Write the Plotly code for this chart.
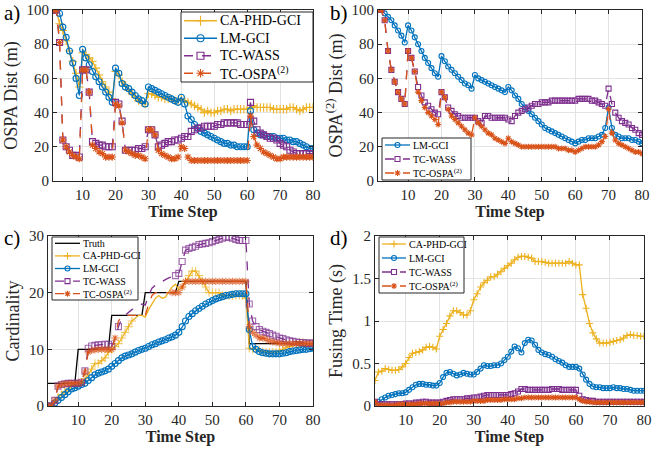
import plotly.graph_objects as go

t = list(range(1, 81))

# ---------------- Panel a: OSPA Dist (m) ----------------
a_ca = [100,100,92,88,82,76,70,63,55,75,74,72,70,66,62,58,55,52,48,64,
        62,58,56,53,51,49,47,46,45,51,51,50,49,49,48,48,48,47,47,48,
        47,46,45,44,43,42,40,41,40,40,41,41,42,42,41,42,42,42,42,42,
        43,44,43,43,43,43,43,42,42,42,42,42,43,43,42,41,42,43,43,43]
a_lm = [100,100,98,90,84,76,69,60,50,77,72,68,64,61,58,55,52,49,46,66,
        63,57,55,54,52,50,48,47,45,55,54,53,52,51,50,49,48,47,46,49,
        45,38,36,33,31,29,28,27,26,25,24,23,22,22,21,21,20,20,20,20,
        41,30,28,27,27,26,26,26,25,25,25,24,24,23,23,22,21,20,19,19]
a_wass = [100,100,81,24,20,18,15,15,14,65,65,52,23,22,21,21,20,20,20,46,
          45,35,18,18,18,18,19,19,20,30,30,27,20,21,22,23,23,24,24,25,
          26,26,29,30,31,31,32,32,32,32,33,33,34,34,34,34,34,33,33,33,
          46,35,30,28,27,26,25,25,24,22,21,20,18,17,16,16,16,16,16,16]
a_ospa = [100,100,81,24,20,17,15,14,13,65,65,52,21,19,17,16,14,14,14,45,
          44,34,18,17,16,15,15,14,13,30,30,27,18,16,15,14,13,13,14,20,
          19,14,12,12,12,12,12,12,12,12,12,12,12,12,12,12,12,12,12,12,
          38,26,21,19,17,16,15,14,13,13,14,14,14,14,14,14,14,14,14,14]

# ---------------- Panel b: OSPA^(2) Dist (m) ----------------
b_lm = [100,100,98,96,94,91,88,85,81,91,88,84,80,76,72,69,66,63,61,73,
        70,67,65,63,61,59,57,56,54,62,60,59,58,57,56,55,54,53,52,55,
        53,50,48,45,43,41,39,37,35,33,31,30,29,28,27,26,25,24,23,22,
        23,24,24,25,25,25,26,27,31,43,31,27,26,25,25,25,24,24,23,22]
b_wass = [100,100,94,76,65,58,52,48,45,76,72,64,55,50,46,44,42,40,39,52,
          49,43,41,39,38,37,37,37,37,37,35,34,38,38,37,37,37,37,37,36,
          35,38,40,41,42,43,44,45,45,46,46,46,47,47,47,47,47,47,47,47,
          48,48,48,48,47,47,46,45,44,54,45,40,37,35,34,33,31,30,28,27]
b_ospa = [100,100,94,76,65,58,52,48,45,76,72,64,52,47,43,40,38,36,33,52,
          49,42,38,36,34,32,30,28,27,37,34,32,30,28,27,25,24,23,22,25,
          23,22,21,20,20,20,20,20,20,20,20,20,20,20,19,19,19,18,18,17,
          18,19,20,20,20,20,21,23,26,42,28,24,22,21,20,19,18,17,17,16]

# ---------------- Panel c: Cardinality ----------------
c_truth = [4]*9 + [10]*10 + [16]*10 + [20]*10 + [22]*21 + [11]*20
c_ca = [0,0,0.5,1.5,2,2.5,3,3.5,3.8,4,4.2,4.8,5.5,6.5,7.5,7.5,8,8.5,9.5,10,
        10.5,11,12,13,14,15,15.5,16,16,15.7,17,18,19,19.5,19,19.2,20,21,21.5,20.5,
        21,22,23,23.8,23.8,23,22,21,20,20,20,20,19.5,19.5,19.5,19.5,19.5,19.5,19.5,19,
        10.2,10,10,9.8,9.6,9.5,9.5,9.5,9.5,9.8,10,10.3,10.5,10.8,11,11.3,11.2,11,11,11]
c_lm = [0,0,0.5,1,1.5,2,2.5,3,3.2,3.5,3.8,4,4.5,5,5.5,5.8,6,6.2,6.5,7,
        7.5,8,8.5,8.8,9,9.2,9.5,9.8,10,10.2,10.5,10.8,11,11.3,11.5,11.7,12,12.2,12.5,13,
        14,15,15.8,16.3,16.8,17.2,17.6,18,18.3,18.6,18.9,19.1,19.3,19.5,19.6,19.7,19.8,19.8,19.8,19.8,
        13.5,10.5,10,9.6,9.4,9.3,9.2,9.2,9.2,9.2,9.3,9.4,9.6,9.7,9.8,9.9,10,10,10.1,10.2]
c_wass = [0,0,1,3.5,3.8,3.9,4,4,4,4,4.2,6.2,10.2,10.6,10.7,10.8,10.8,10.9,10.9,10.5,
          12,14,15.5,16,16.5,17,17.3,17.6,18,17.8,19.5,20.8,21.3,21.6,22,22.3,22.6,22.8,23,23.4,
          25.5,27.5,27.8,28,28.2,28.5,28.6,28.7,28.8,29,29.2,29.4,29.6,29.8,29.8,29.6,29.4,29.2,29.2,29.2,
          18,15,14,13.5,13.2,13,12.8,12.5,12.3,12,11.9,11.7,11.5,11.4,11.3,11.2,11.2,11.1,11.1,11.1]
c_ospa = [0,0,1,3.5,3.8,3.9,4,4,4,4,4.2,6,9.5,9.8,9.9,10,10,10,10,10,
          12,15,15.8,16,16,16,16,16,16,16,18,19.5,20,20,20,20,20,20,20,20,
          21,22,22,22,22,22,22,22,22,22,22,22,22,22,22,22,22,22,22,22,
          14,13,12.5,12,12,11.8,11.5,11.3,11.2,11.1,11,11,11,11,11,11,11,11,11,11]

# ---------------- Panel d: Fusing Time (s) ----------------
d_ca = [0.30,0.40,0.41,0.44,0.43,0.42,0.42,0.43,0.46,0.50,0.57,0.62,0.63,0.64,0.66,0.69,0.70,0.69,0.67,0.82,
        0.90,0.97,1.06,1.12,1.12,1.10,1.07,1.07,1.12,1.25,1.32,1.40,1.45,1.48,1.52,1.52,1.55,1.58,1.62,1.65,
        1.68,1.72,1.75,1.76,1.76,1.75,1.74,1.70,1.70,1.70,1.69,1.68,1.68,1.68,1.68,1.68,1.68,1.70,1.68,1.66,
        1.66,1.31,1.15,0.97,0.86,0.79,0.74,0.74,0.74,0.75,0.76,0.77,0.78,0.80,0.83,0.84,0.83,0.83,0.82,0.82]
d_lm = [0.02,0.05,0.08,0.10,0.12,0.13,0.14,0.15,0.15,0.16,0.19,0.22,0.25,0.26,0.26,0.25,0.25,0.24,0.24,0.27,
        0.34,0.39,0.40,0.38,0.36,0.37,0.39,0.38,0.37,0.37,0.40,0.44,0.48,0.47,0.47,0.48,0.48,0.50,0.54,0.58,
        0.64,0.70,0.68,0.63,0.74,0.78,0.77,0.72,0.66,0.63,0.61,0.60,0.58,0.55,0.53,0.51,0.48,0.46,0.46,0.46,
        0.44,0.37,0.31,0.26,0.23,0.22,0.22,0.21,0.21,0.21,0.22,0.21,0.21,0.20,0.20,0.19,0.18,0.18,0.18,0.18]
d_wass = [0.05,0.02,0.02,0.02,0.02,0.02,0.02,0.02,0.02,0.03,0.03,0.03,0.04,0.04,0.05,0.05,0.04,0.04,0.04,0.04,
          0.05,0.06,0.07,0.08,0.08,0.08,0.08,0.09,0.09,0.10,0.10,0.11,0.12,0.13,0.13,0.13,0.13,0.13,0.13,0.13,
          0.14,0.15,0.17,0.20,0.20,0.19,0.19,0.19,0.19,0.19,0.19,0.19,0.20,0.20,0.20,0.19,0.19,0.19,0.19,0.19,
          0.12,0.08,0.07,0.06,0.06,0.05,0.05,0.05,0.05,0.05,0.05,0.05,0.05,0.05,0.05,0.05,0.05,0.05,0.05,0.05]
d_ospa = [0.05,0.01,0.01,0.01,0.01,0.01,0.01,0.02,0.02,0.02,0.02,0.02,0.02,0.03,0.03,0.03,0.03,0.03,0.03,0.03,
          0.03,0.04,0.04,0.05,0.05,0.05,0.05,0.05,0.05,0.06,0.06,0.06,0.06,0.07,0.07,0.07,0.07,0.07,0.08,0.08,
          0.08,0.08,0.09,0.09,0.10,0.10,0.10,0.10,0.10,0.10,0.10,0.10,0.10,0.10,0.10,0.10,0.10,0.10,0.10,0.10,
          0.08,0.06,0.05,0.05,0.04,0.04,0.04,0.04,0.04,0.04,0.04,0.04,0.04,0.04,0.04,0.04,0.04,0.04,0.04,0.04]

NAMES = {"ca": "CA-PHD-GCI", "lm": "LM-GCI", "wass": "TC-WASS",
         "ospa": "TC-OSPA<sup>(2)</sup>", "truth": "Truth"}
COLORS = {"ca": "#EDB120", "lm": "#0072BD", "wass": "#7E2F8E", "ospa": "#D95319", "truth": "#000000"}
SYMS = {"ca": "cross-thin-open", "lm": "circle-open", "wass": "square-open",
        "ospa": "asterisk-open", "truth": "circle"}
FONT = "Liberation Serif"
W, H = 652, 454
INK = "#262626"

fig = go.Figure()

def style(key):
    return dict(color=COLORS[key], width=1.3, dash="dash" if key in ("wass", "ospa") else "solid")

def add(key, x, y, xa, ya, ms=6, sizes=None):
    c = COLORS[key]
    fig.add_trace(go.Scatter(
        x=x, y=y, name=NAMES[key], mode="lines" if key == "truth" else "lines+markers",
        xaxis=xa, yaxis=ya, line=style(key), showlegend=False,
        marker=dict(symbol=SYMS[key], size=sizes if sizes is not None else ms, color=c,
                    line=dict(color=c, width=1.1))))

# panel a
for k, y in [("ca", a_ca), ("lm", a_lm), ("wass", a_wass), ("ospa", a_ospa)]:
    add(k, t, y, "x", "y")
# panel b
for k, y in [("lm", b_lm), ("wass", b_wass), ("ospa", b_ospa)]:
    add(k, t, y, "x2", "y2", ms=5)
# panel c (markers only on parts of the curves)
def msizes(ranges, s=6):
    return [s if any(lo <= ti <= hi for lo, hi in ranges) else 0 for ti in t]
add("truth", t, c_truth, "x3", "y3")
add("ca", t, c_ca, "x3", "y3", sizes=msizes([(1, 26), (41, 80)]))
add("lm", t, c_lm, "x3", "y3")
add("wass", t, c_wass, "x3", "y3", sizes=msizes([(1, 20), (22, 22), (39, 80)]))
add("ospa", t, c_ospa, "x3", "y3", sizes=msizes([(1, 21), (38, 80)]))
# panel d
for k, y in [("ca", d_ca), ("lm", d_lm), ("wass", d_wass), ("ospa", d_ospa)]:
    add(k, t, y, "x4", "y4", ms=5)

# ---------- custom legends drawn on an overlay axis in pixel units ----------
def legend_box(x0, y0, x1, y1, keys, fsize, linelen, ms):
    fig.add_trace(go.Scatter(x=[x0, x1, x1, x0, x0], y=[y0, y0, y1, y1, y0], mode="lines",
                             fill="toself", fillcolor="white", line=dict(color=INK, width=1),
                             xaxis="x5", yaxis="y5", showlegend=False, hoverinfo="skip"))
    rh = (y1 - y0) / len(keys)
    for i, k in enumerate(keys):
        yc = y0 + (i + 0.5) * rh
        lx0, lx1 = x0 + 3, x0 + 3 + linelen
        fig.add_trace(go.Scatter(x=[lx0, lx1], y=[yc, yc], mode="lines", line=style(k),
                                 xaxis="x5", yaxis="y5", showlegend=False, hoverinfo="skip"))
        if k != "truth":
            c = COLORS[k]
            fig.add_trace(go.Scatter(x=[(lx0 + lx1) / 2], y=[yc], mode="markers",
                                     marker=dict(symbol=SYMS[k], size=ms, color=c,
                                                 line=dict(color=c, width=1.1)),
                                     xaxis="x5", yaxis="y5", showlegend=False, hoverinfo="skip"))
        fig.add_annotation(text=NAMES[k], x=lx1 + 1, y=yc, xref="x5", yref="y5",
                           xanchor="left", yanchor="middle", showarrow=False,
                           font=dict(family=FONT, size=fsize, color="#000000"))

legend_box(181, 12, 313, 82, ["ca", "lm", "wass", "ospa"], 14, 33, 7)
legend_box(382, 138, 471, 180, ["lm", "wass", "ospa"], 10, 25, 5)
legend_box(52, 237, 138, 300, ["truth", "ca", "lm", "wass", "ospa"], 10, 25, 5)
legend_box(379, 237, 464, 293, ["ca", "lm", "wass", "ospa"], 10, 24, 5)

def px(x0, x1):
    return [x0 / W, x1 / W]
def py(y0, y1):
    return [1 - y1 / H, 1 - y0 / H]

axis_common = dict(showline=True, mirror="ticks", linecolor=INK, linewidth=1,
                   ticks="inside", ticklen=4, tickcolor=INK, automargin=False,
                   showgrid=True, gridcolor="#E3E3E3", gridwidth=1, zeroline=False,
                   tickfont=dict(family=FONT, size=15, color=INK))
xt = dict(range=[1, 80], tickvals=[10, 20, 30, 40, 50, 60, 70, 80],
          title=dict(text="<b>Time Step</b>", font=dict(family=FONT, size=16, color=INK), standoff=2))

def ytitle(txt):
    return dict(text=txt, font=dict(family=FONT, size=18, color=INK), standoff=4)

layout = dict(
    width=W, height=H, margin=dict(l=0, r=0, t=0, b=0, autoexpand=False),
    paper_bgcolor="white", plot_bgcolor="rgba(0,0,0,0)",
    xaxis=dict(domain=px(53, 313), anchor="y", **axis_common, **xt),
    yaxis=dict(domain=py(10, 181), anchor="x", range=[0, 100], tickvals=[0, 20, 40, 60, 80, 100],
               title=ytitle("OSPA Dist (m)"), **axis_common),
    xaxis2=dict(domain=px(378, 642), anchor="y2", **axis_common, **xt),
    yaxis2=dict(domain=py(10, 181), anchor="x2", range=[0, 100], tickvals=[0, 20, 40, 60, 80, 100],
                title=ytitle("OSPA<sup>(2)</sup> Dist (m)"), **axis_common),
    xaxis3=dict(domain=px(48, 313), anchor="y3", **axis_common, **xt),
    yaxis3=dict(domain=py(236, 406), anchor="x3", range=[0, 30], tickvals=[0, 10, 20, 30],
                title=ytitle("Cardinality"), **axis_common),
    xaxis4=dict(domain=px(375, 644), anchor="y4", **axis_common, **xt),
    yaxis4=dict(domain=py(236, 406), anchor="x4", range=[0, 2], tickvals=[0, 0.5, 1, 1.5, 2],
                ticktext=["0", "0.5", "1", "1.5", "2"], title=ytitle("Fusing Time (s)"), **axis_common),
    xaxis5=dict(domain=[0, 1], range=[0, W], visible=False, fixedrange=True, anchor="y5", automargin=False),
    yaxis5=dict(domain=[0, 1], range=[H, 0], visible=False, fixedrange=True, anchor="x5", automargin=False),
)
fig.update_layout(**layout)

for txt, x, y in [("a)", 2, 13), ("b)", 328, 13), ("c)", 2, 238), ("d)", 328, 238)]:
    fig.add_annotation(text=txt, x=x / W, y=1 - y / H, xref="paper", yref="paper",
                       xanchor="left", yanchor="middle", showarrow=False,
                       font=dict(family=FONT, size=21, color="#000000"))

fig.write_html("out.html", config={"displayModeBar": False},
               post_script="document.body.style.margin='0px';document.body.style.overflow='hidden';")
